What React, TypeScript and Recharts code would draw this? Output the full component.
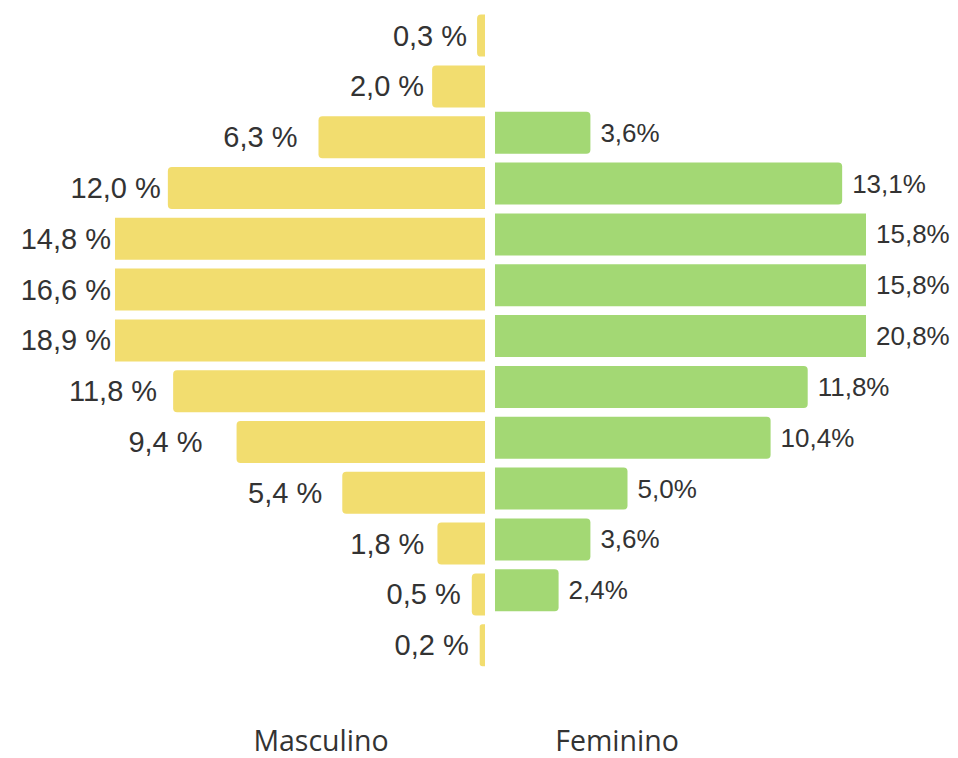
import React from 'react';
import { BarChart, Bar, XAxis, YAxis, LabelList, Cell } from 'recharts';

const groups = ['g1', 'g2', 'g3', 'g4', 'g5', 'g6', 'g7', 'g8', 'g9', 'g10', 'g11', 'g12', 'g13'];
const maleValues: number[] = [0.3, 2.0, 6.3, 12.0, 14.8, 16.6, 18.9, 11.8, 9.4, 5.4, 1.8, 0.5, 0.2];
const femaleValues: (number | null)[] = [null, null, 3.6, 13.1, 15.8, 15.8, 20.8, 11.8, 10.4, 5.0, 3.6, 2.4, null];
const axisMax = 14;
const sideLabels = ['Masculino', 'Feminino'];

// presentational: gap (px) between each male bar end and its label, as in the reference
const maleLabelGaps = [10, 8, 21, 7, 4, 4, 4, 16, 34, 20, 13, 11, 11];

const MALE_COLOR = '#F2DD6F';
const FEMALE_COLOR = '#A3D874';
const TEXT_COLOR = '#333333';
const LABEL_FONT = '"Liberation Sans", Arial, Helvetica, sans-serif';
const AXIS_FONT = '"Open Sans", "Noto Sans", sans-serif';

const fmt = (v: number) => v.toFixed(1).replace('.', ',');

const maleData = groups.map((g, i) => {
  const v = maleValues[i];
  return {
    group: g,
    shown: Math.min(v, axisMax),
    clipped: v > axisMax,
    label: `${fmt(v)} %`,
  };
});

const femaleData = groups.map((g, i) => {
  const v = femaleValues[i];
  return {
    group: g,
    shown: v == null ? null : Math.min(v, axisMax),
    clipped: v != null && v > axisMax,
    label: v == null ? null : `${fmt(v)}%`,
  };
});

const makeLabel = (side: 'left' | 'right', fontSize: number, gaps?: number[]) => (props: any) => {
  const { value, index } = props;
  if (value == null || value === '') return null;
  const vb = props.viewBox && props.viewBox.width !== undefined ? props.viewBox : props;
  const x = Number(vb.x);
  const y = Number(vb.y);
  const w = Number(vb.width);
  const h = Number(vb.height);
  if (!isFinite(x) || !isFinite(w)) return null;
  const lo = Math.min(x, x + w);
  const hi = Math.max(x, x + w);
  const gap = gaps && typeof index === 'number' && gaps[index] != null ? gaps[index] : side === 'left' ? 7 : 10;
  const tx = side === 'left' ? lo - gap : hi + gap;
  return (
    <text
      x={tx}
      y={y + h / 2}
      textAnchor={side === 'left' ? 'end' : 'start'}
      dominantBaseline="central"
      fill={TEXT_COLOR}
      fontSize={fontSize}
      fontFamily={LABEL_FONT}
    >
      {value}
    </text>
  );
};

const W = 958;
const H = 758;

export default function App() {
  return (
    <div style={{ position: 'absolute', left: 0, top: 0, width: W, height: H, background: '#ffffff' }}>
      <div style={{ position: 'absolute', left: 0, top: 0 }}>
        <BarChart
          width={W}
          height={H}
          layout="vertical"
          data={maleData}
          margin={{ top: 10.6, right: 473, bottom: 0, left: 115 }}
          barSize={42}
        >
          <XAxis
            type="number"
            domain={[0, axisMax]}
            allowDataOverflow
            reversed
            tick={false}
            tickLine={false}
            axisLine={false}
            height={87}
            label={{
              value: sideLabels[0],
              position: 'insideBottom',
              offset: 7,
              dx: 21,
              fill: TEXT_COLOR,
              fontSize: 28.5,
              fontFamily: AXIS_FONT,
            }}
          />
          <YAxis type="category" dataKey="group" hide />
          <Bar dataKey="shown" fill={MALE_COLOR} isAnimationActive={false} radius={[0, 4, 4, 0]}>
            {maleData.map((d, i) => (
              <Cell key={`m-${i}`} fill={MALE_COLOR} radius={d.clipped ? 0 : [0, 4, 4, 0]} />
            ))}
            <LabelList dataKey="label" content={makeLabel('left', 29, maleLabelGaps)} />
          </Bar>
        </BarChart>
      </div>
      <div style={{ position: 'absolute', left: 0, top: 0 }}>
        <BarChart
          width={W}
          height={H}
          layout="vertical"
          data={femaleData}
          margin={{ top: 6, right: 92, bottom: 0, left: 495 }}
          barSize={42}
        >
          <XAxis
            type="number"
            domain={[0, axisMax]}
            allowDataOverflow
            tick={false}
            tickLine={false}
            axisLine={false}
            height={91}
            label={{
              value: sideLabels[1],
              position: 'insideBottom',
              offset: 7,
              dx: -63.5,
              fill: TEXT_COLOR,
              fontSize: 28.5,
              fontFamily: AXIS_FONT,
            }}
          />
          <YAxis type="category" dataKey="group" hide />
          <Bar dataKey="shown" fill={FEMALE_COLOR} isAnimationActive={false} radius={[0, 4, 4, 0]}>
            {femaleData.map((d, i) => (
              <Cell key={`f-${i}`} fill={FEMALE_COLOR} radius={d.clipped ? 0 : [0, 4, 4, 0]} />
            ))}
            <LabelList dataKey="label" content={makeLabel('right', 26)} />
          </Bar>
        </BarChart>
      </div>
    </div>
  );
}
